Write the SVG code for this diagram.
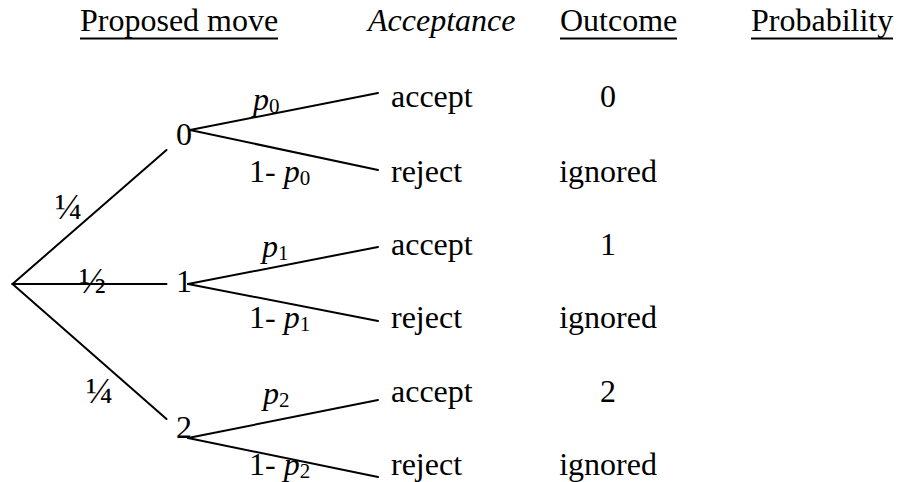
<svg xmlns="http://www.w3.org/2000/svg" width="900" height="482" viewBox="0 0 900 482">
<style>
text{font-family:"Liberation Serif","Times New Roman",serif;font-size:32px;fill:#000}
.it{font-style:italic}
.sub{font-size:21px;font-style:normal}
.frac{font-size:36px}
.mid{text-anchor:middle}
.ul{stroke:#000;stroke-width:2}
.edge{stroke:#000;stroke-width:2;fill:none;stroke-linecap:round}
</style>
<rect width="900" height="482" fill="#fff"/>
<g id="headers">
<text x="80" y="31">Proposed move</text>
<line class="ul" x1="80" y1="38.5" x2="278" y2="38.5"/>
<text class="it" x="368" y="31">Acceptance</text>
<text x="560" y="31">Outcome</text>
<line class="ul" x1="560" y1="38.5" x2="677" y2="38.5"/>
<text x="751" y="31">Probability</text>
<line class="ul" x1="751" y1="38.5" x2="893" y2="38.5"/>
</g>
<g id="connectors">
<line class="edge" x1="12.5" y1="284" x2="166.5" y2="150"/>
<line class="edge" x1="12.5" y1="284" x2="166.5" y2="284"/>
<line class="edge" x1="12.5" y1="284" x2="166.5" y2="419"/>
<line class="edge" x1="190" y1="130" x2="378" y2="93"/>
<line class="edge" x1="190" y1="130" x2="378" y2="170"/>
<line class="edge" x1="188" y1="284" x2="378" y2="247"/>
<line class="edge" x1="188" y1="284" x2="378" y2="321"/>
<line class="edge" x1="188" y1="438" x2="378" y2="400"/>
<line class="edge" x1="188" y1="438" x2="378" y2="477"/>
</g>
<g id="edge-labels">
<text class="frac" x="55" y="219">¼</text>
<text class="frac" x="79" y="293">½</text>
<text class="frac" x="86" y="403">¼</text>
<text class="it" x="253" y="110">p<tspan class="sub" dy="3">0</tspan></text>
<text x="249" y="182">1- <tspan class="it">p</tspan><tspan class="sub" dy="3">0</tspan></text>
<text class="it" x="262" y="257">p<tspan class="sub" dy="3">1</tspan></text>
<text x="249" y="328">1- <tspan class="it">p</tspan><tspan class="sub" dy="3">1</tspan></text>
<text class="it" x="263" y="404">p<tspan class="sub" dy="3">2</tspan></text>
<text x="249" y="475">1- <tspan class="it">p</tspan><tspan class="sub" dy="3">2</tspan></text>
</g>
<g id="node-move-0"><text x="176" y="145">0</text></g>
<g id="node-move-1"><text x="176" y="292">1</text></g>
<g id="node-move-2"><text x="176" y="438">2</text></g>
<g id="node-accept-0"><text x="391" y="107">accept</text><text class="mid" x="608" y="107">0</text></g>
<g id="node-reject-0"><text x="391" y="181.5">reject</text><text class="mid" x="608" y="181.5">ignored</text></g>
<g id="node-accept-1"><text x="391" y="255">accept</text><text class="mid" x="608" y="255">1</text></g>
<g id="node-reject-1"><text x="391" y="328">reject</text><text class="mid" x="608" y="328">ignored</text></g>
<g id="node-accept-2"><text x="391" y="401.5">accept</text><text class="mid" x="608" y="401.5">2</text></g>
<g id="node-reject-2"><text x="391" y="475">reject</text><text class="mid" x="608" y="475">ignored</text></g>
</svg>
